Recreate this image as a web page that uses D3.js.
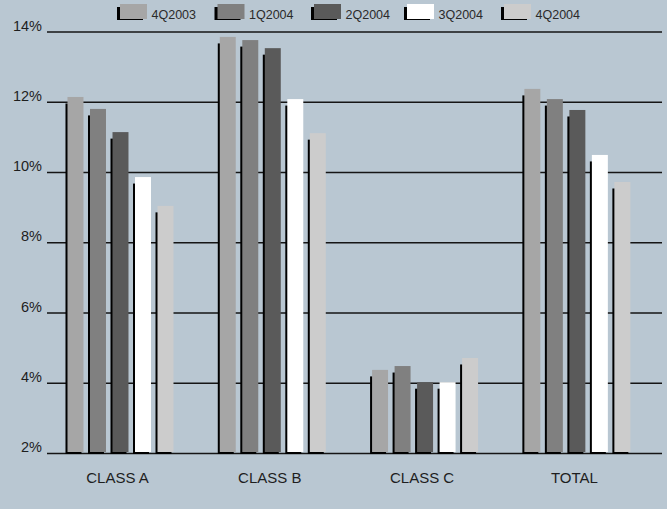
<!DOCTYPE html>
<html><head><meta charset="utf-8">
<script src="https://cdn.jsdelivr.net/npm/d3@7"></script>
<style>
html,body{margin:0;padding:0;background:#b9c7d2;}
svg{display:block;}
text{font-family:"Liberation Sans",Arial,sans-serif;}
</style></head>
<body>
<svg id="chart" width="667" height="509"></svg>
<script>
const categories = ["CLASS A", "CLASS B", "CLASS C", "TOTAL"];
const seriesNames = ["4Q2003", "1Q2004", "2Q2004", "3Q2004", "4Q2004"];
const seriesColors = ["#a6a6a6", "#808080", "#5a5a5a", "#ffffff", "#cccccc"];
const s4Q2003 = [12.15, 13.86, 4.38, 12.38];
const s1Q2004 = [11.81, 13.77, 4.49, 12.09];
const s2Q2004 = [11.15, 13.54, 4.03, 11.78];
const s3Q2004 = [9.87, 12.09, 4.03, 10.50];
const s4Q2004 = [9.05, 11.12, 4.72, 9.73];
const yTicks = [2, 4, 6, 8, 10, 12, 14];
const seriesValues = [s4Q2003, s1Q2004, s2Q2004, s3Q2004, s4Q2004];

const svg = d3.select("#chart");
const y = d3.scaleLinear().domain([2, 14]).range([453.5, 32]);
const x0 = d3.scaleBand().domain(categories).range([44.65, 653.2]).paddingInner(0.304).paddingOuter(0.15);
const x1 = d3.scaleBand().domain(seriesNames).range([0, x0.bandwidth()]).paddingInner(0.29).paddingOuter(0);

// gridlines
svg.append("g").selectAll("line").data(yTicks).join("line")
  .attr("x1", 47).attr("x2", 662)
  .attr("y1", d => y(d)).attr("y2", d => y(d))
  .attr("stroke", "#151515").attr("stroke-width", 1.6);

// y labels
svg.append("g").selectAll("text").data(yTicks).join("text")
  .attr("x", 42).attr("y", d => y(d) - 1.5)
  .attr("text-anchor", "end")
  .attr("font-size", 14.5).attr("fill", "#1e1e1e")
  .text(d => d + "%");

// bars
const data = [];
categories.forEach((c, ci) => seriesNames.forEach((s, si) => data.push({c, s, si, v: seriesValues[si][ci]})));
const g = svg.append("g");
g.selectAll("rect.sh").data(data).join("rect").attr("class", "sh")
  .attr("x", d => x0(d.c) + x1(d.s) - 2)
  .attr("y", d => y(d.v) + 6.5)
  .attr("width", x1.bandwidth())
  .attr("height", d => y(2) + 0.5 - y(d.v) - 6.5)
  .attr("fill", "#000");
g.selectAll("rect.bar").data(data).join("rect").attr("class", "bar")
  .attr("x", d => x0(d.c) + x1(d.s))
  .attr("y", d => y(d.v))
  .attr("width", x1.bandwidth())
  .attr("height", d => y(2) - 1.5 - y(d.v))
  .attr("fill", d => seriesColors[d.si]);

// category labels
svg.append("g").selectAll("text").data(categories).join("text")
  .attr("x", d => x0(d) + x0.bandwidth() / 2 - 3)
  .attr("y", 483)
  .attr("text-anchor", "middle")
  .attr("font-size", 15).attr("fill", "#1e1e1e")
  .text(d => d);

// legend
const legX = [120, 217.5, 314, 407, 504];
const leg = svg.append("g").selectAll("g").data(seriesNames).join("g")
  .attr("transform", (d, i) => `translate(${legX[i]},0)`);
leg.append("rect").attr("x", -3).attr("y", 7).attr("width", 26).attr("height", 13).attr("fill", "#000");
leg.append("rect").attr("x", 0).attr("y", 4).attr("width", 27).attr("height", 15)
  .attr("fill", (d, i) => seriesColors[i]);
leg.append("text").attr("x", 31.5).attr("y", 18.5)
  .attr("font-size", 12.5).attr("fill", "#2a2a2a").text(d => d);
</script>
</body></html>
